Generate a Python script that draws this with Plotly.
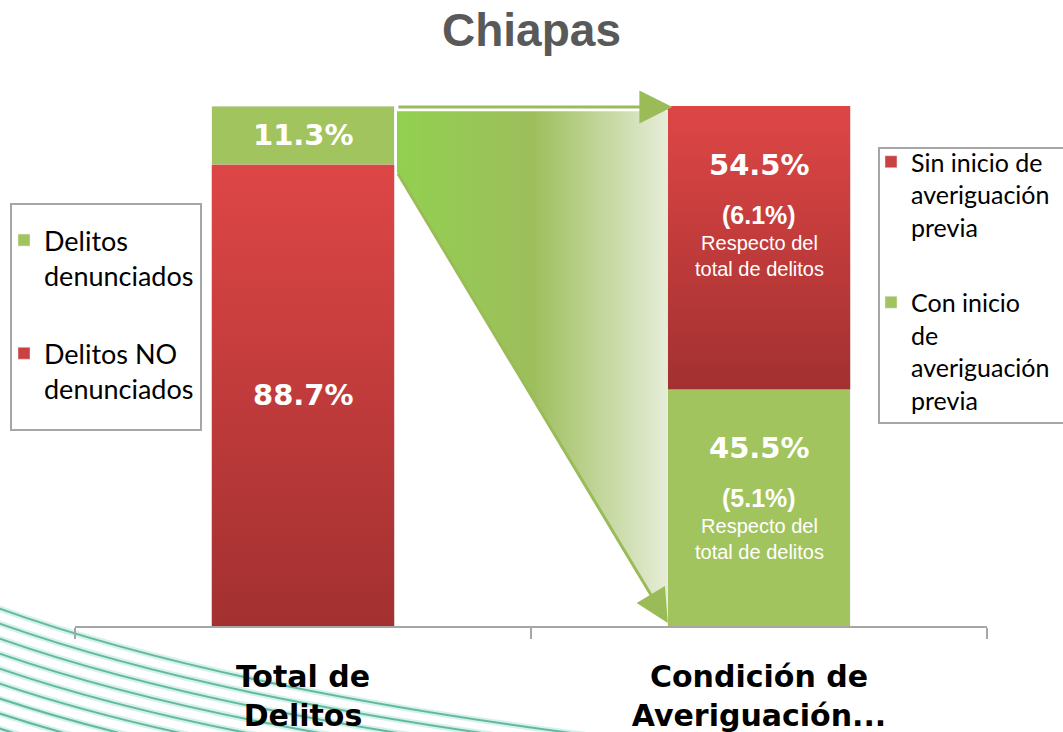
import plotly.graph_objects as go

# ---------------- data ----------------
categories = ["Total de<br>Delitos", "Condición de<br>Averiguación..."]
no_denunciados = [88.7, None]      # Delitos NO denunciados (bottom, left bar)
denunciados = [11.3, None]         # Delitos denunciados (top, left bar)
con_inicio = [None, 45.5]          # Con inicio de averiguación previa (bottom, right bar)
sin_inicio = [None, 54.5]          # Sin inicio de averiguación previa (top, right bar)
respecto_total_con = 5.1           # % respecto del total de delitos
respecto_total_sin = 6.1

RED = "#c94141"
GREEN = "#a2c45e"
W, H = 1063, 732
L_M, R_M, T_M, B_M = 75, 76, 80, 106
Y_MAX = 105
HALF_W = 0.2

fig = go.Figure()

# stacked bars (bottom segments first)
fig.add_trace(go.Bar(x=categories, y=no_denunciados, name="Delitos NO<br>denunciados",
                     marker_color=RED, legend="legend", legendgroup="a", legendrank=2,
                     hoverinfo="skip"))
fig.add_trace(go.Bar(x=categories, y=con_inicio, name="Con inicio<br>de<br>averiguación<br>previa",
                     marker_color=GREEN, legend="legend2", legendgroup="b", legendrank=2,
                     hoverinfo="skip"))
fig.add_trace(go.Bar(x=categories, y=denunciados, name="Delitos<br>denunciados",
                     marker_color=GREEN, legend="legend", legendgroup="c", legendrank=1,
                     hoverinfo="skip"))
fig.add_trace(go.Bar(x=categories, y=sin_inicio, name="Sin inicio de<br>averiguación<br>previa",
                     marker_color=RED, legend="legend2", legendgroup="d", legendrank=1,
                     hoverinfo="skip"))

# shading overlay on the red segments (vertical gradient, derived from the data)
red_segments = [(0, 0.0, no_denunciados[0]),
                (1, con_inicio[1], con_inicio[1] + sin_inicio[1])]
for xc, y0, y1 in red_segments:
    fig.add_trace(go.Scatter(
        x=[xc - HALF_W, xc + HALF_W, xc + HALF_W, xc - HALF_W, xc - HALF_W],
        y=[y0, y0, y1, y1, y0], xaxis="x2", yaxis="y",
        mode="lines", line=dict(width=0), fill="toself",
        fillgradient=dict(type="vertical", start=y0, stop=y1,
                          colorscale=[[0, "rgb(163,48,48)"], [1, "rgb(222,70,70)"]]),
        showlegend=False, hoverinfo="skip"))

# ---------------- decorative flow arrow (derived from the data) ----------------
total = no_denunciados[0] + denunciados[0]
boundary = no_denunciados[0]
x_left = 0 + HALF_W + 0.006
x_right = 1 - HALF_W
fill_top = total - 1.0
fig.add_trace(go.Scatter(
    x=[x_left, x_right, x_right, x_left, x_left],
    y=[fill_top, fill_top, 1.0, boundary - 1.4, fill_top],
    xaxis="x2", yaxis="y",
    mode="lines", line=dict(width=0), fill="toself",
    fillgradient=dict(type="horizontal",
                      colorscale=[[0, "rgb(146,208,80)"], [0.5, "rgb(157,190,92)"],
                                  [1, "rgb(230,237,216)"]]),
    showlegend=False, hoverinfo="skip"))

annotations = []
# top arrow
annotations.append(dict(x=x_right + 0.01, y=total - 0.2, ax=x_left, ay=total - 0.2,
                        xref="x2", yref="y", axref="x2", ayref="y", text="",
                        showarrow=True, arrowhead=2, arrowsize=2.2, arrowwidth=3,
                        arrowcolor="#9bbb59", standoff=0))
# diagonal arrow
annotations.append(dict(x=x_right, y=0.6, ax=x_left, ay=boundary - 1.4,
                        xref="x2", yref="y", axref="x2", ayref="y", text="",
                        showarrow=True, arrowhead=2, arrowsize=2.2, arrowwidth=3,
                        arrowcolor="#9bbb59", standoff=0))

# ---------------- labels inside bars ----------------
BIG = dict(family="DejaVu Sans", size=29, color="white", weight="bold")
MID = dict(family="Liberation Sans", size=25, color="white", weight="bold")
SMALL = dict(family="Liberation Sans", size=20, color="white")

annotations.append(dict(x=categories[0], y=boundary + denunciados[0] / 2, text=f"{denunciados[0]:.1f}%",
                        showarrow=False, font=BIG, xref="x", yref="y"))
annotations.append(dict(x=categories[0], y=no_denunciados[0] / 2, text=f"{no_denunciados[0]:.1f}%",
                        showarrow=False, font=BIG, xref="x", yref="y"))

for seg_top, pct, rel in [(con_inicio[1] + sin_inicio[1], sin_inicio[1], respecto_total_sin),
                          (con_inicio[1], con_inicio[1], respecto_total_con)]:
    annotations.append(dict(x=categories[1], y=seg_top, yshift=-59, text=f"{pct:.1f}%",
                            showarrow=False, font=BIG, xref="x", yref="y"))
    annotations.append(dict(x=categories[1], y=seg_top, yshift=-109, text=f"({rel:.1f}%)",
                            showarrow=False, font=MID, xref="x", yref="y"))
    annotations.append(dict(x=categories[1], y=seg_top, yshift=-150,
                            text="Respecto del<br>total de delitos",
                            showarrow=False, font=SMALL, xref="x", yref="y"))

# ---------------- decorative teal lines (bottom-left background) ----------------
def px(xp):
    return (xp - L_M) / (W - L_M - R_M)

def py(yp):
    return (H - B_M - yp) / (H - T_M - B_M)

shapes = []
for i in range(10):
    x0, y0 = -5, 607 + 15 * i
    cx, cy = 220, 689 + 14 * i
    x1, y1 = 610, 738 + 12 * i
    path = f"M {px(x0)},{py(y0)} Q {px(cx)},{py(cy)} {px(x1)},{py(y1)}"
    shapes.append(dict(type="path", path=path, xref="paper", yref="paper", layer="below",
                       line=dict(color="rgba(170,228,214,0.5)", width=6)))
    shapes.append(dict(type="path", path=path, xref="paper", yref="paper", layer="below",
                       line=dict(color="rgba(60,165,135,0.75)", width=2)))

# legend frames
shapes.append(dict(type="rect", xref="paper", yref="paper", x0=px(11), x1=px(201), y0=py(430), y1=py(204),
                   line=dict(color="#a6a6a6", width=2), fillcolor="rgba(0,0,0,0)", layer="above"))
shapes.append(dict(type="rect", xref="paper", yref="paper", x0=px(879), x1=px(1075), y0=py(423), y1=py(148),
                   line=dict(color="#a6a6a6", width=2), fillcolor="rgba(0,0,0,0)", layer="above"))

fig.update_layout(
    width=W, height=H,
    margin=dict(l=L_M, r=R_M, t=T_M, b=B_M, autoexpand=False),
    paper_bgcolor="white", plot_bgcolor="rgba(0,0,0,0)",
    barmode="stack", bargap=0.6,
    title=dict(text="<b>Chiapas</b>", x=0.5, xref="container", y=1 - 30 / H, yanchor="middle",
               font=dict(family="Liberation Sans", size=46, color="#595959")),
    xaxis=dict(type="category", range=[-0.5, 1.5], showgrid=False, showline=True,
               linecolor="#a6a6a6", linewidth=2, ticks="outside", tickson="boundaries",
               ticklen=11, tickwidth=2, tickcolor="#a6a6a6", ticklabelstandoff=23,
               tickfont=dict(family="DejaVu Sans", size=30, color="black", weight="bold")),
    xaxis2=dict(overlaying="x", range=[-0.5, 1.5], visible=False, showgrid=False),
    yaxis=dict(range=[0, Y_MAX], visible=False, showgrid=False),
    legend=dict(x=px(4), y=py(216), xanchor="left", yanchor="top", xref="paper", yref="paper",
                bgcolor="rgba(0,0,0,0)", borderwidth=0,
                font=dict(family="Lato", size=27, color="black"),
                tracegroupgap=40, traceorder="grouped", valign="top"),
    legend2=dict(x=px(871), y=py(139), xanchor="left", yanchor="top", xref="paper", yref="paper",
                 bgcolor="rgba(0,0,0,0)", borderwidth=0,
                 font=dict(family="Lato", size=25, color="black"),
                 tracegroupgap=40, traceorder="grouped", valign="top"),
    annotations=annotations,
    shapes=shapes,
)

fig.write_html("out.html", config={"displayModeBar": False},
               post_script="document.body.style.margin='0';")
